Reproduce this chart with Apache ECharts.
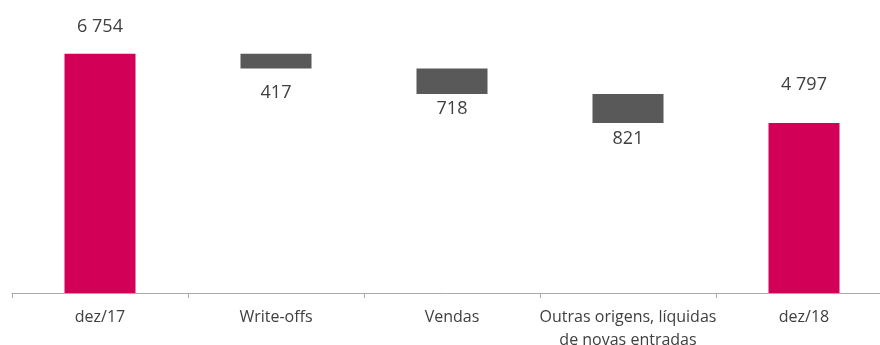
<!DOCTYPE html>
<html>
<head>
<meta charset="utf-8">
<script src="https://cdn.jsdelivr.net/npm/echarts@6/dist/echarts.min.js"></script>
<style>html,body{margin:0;padding:0;background:#fff;}#c{width:880px;height:345px;}</style>
</head>
<body>
<div id="c"></div>
<script>
const categories = ['dez/17', 'Write-offs', 'Vendas', 'Outras origens, líquidas\nde novas entradas', 'dez/18'];
const values = [6754, -417, -718, -821, 4797];
const isTotal = [true, false, false, false, true];
const labelDistances = [18, 15, 6, 7, 29];

function fmt(v) {
  return String(Math.abs(v)).replace(/\B(?=(\d{3})+(?!\d))/g, ' ');
}

const base = [];
const visible = [];
let running = 0;
values.forEach((v, i) => {
  if (isTotal[i]) {
    base.push(0);
    visible.push({
      value: v,
      itemStyle: { color: '#D20057' },
      label: { show: true, position: 'top', distance: labelDistances[i], formatter: fmt(v) }
    });
    running = v;
  } else {
    const after = running + v;
    base.push(Math.min(running, after));
    visible.push({
      value: Math.abs(v),
      itemStyle: { color: '#595959' },
      label: { show: true, position: 'bottom', distance: labelDistances[i], formatter: fmt(v) }
    });
    running = after;
  }
});

const chart = echarts.init(document.getElementById('c'), null, { renderer: 'canvas' });
chart.setOption({
  animation: false,
  backgroundColor: '#ffffff',
  grid: { left: 12, top: 45, width: 880, height: 248, containLabel: false, outerBoundsMode: 'none' },
  xAxis: {
    type: 'category',
    data: categories,
    boundaryGap: true,
    axisLine: { lineStyle: { color: '#aaaaaa', width: 1 } },
    axisTick: { show: true, length: 5, lineStyle: { color: '#aaaaaa' } },
    axisLabel: {
      color: '#404040', fontSize: 16, fontFamily: 'Open Sans', margin: 13, lineHeight: 23, interval: 0
    }
  },
  yAxis: {
    type: 'value', min: 0, max: 7000, show: false, splitLine: { show: false }
  },
  series: [
    {
      type: 'bar', stack: 'w', data: base, barWidth: 71,
      itemStyle: { color: 'transparent' }, silent: true
    },
    {
      type: 'bar', stack: 'w', data: visible, barWidth: 71,
      label: { color: '#404040', fontSize: 18, fontFamily: 'Open Sans' }
    }
  ]
});
</script>
</body>
</html>
